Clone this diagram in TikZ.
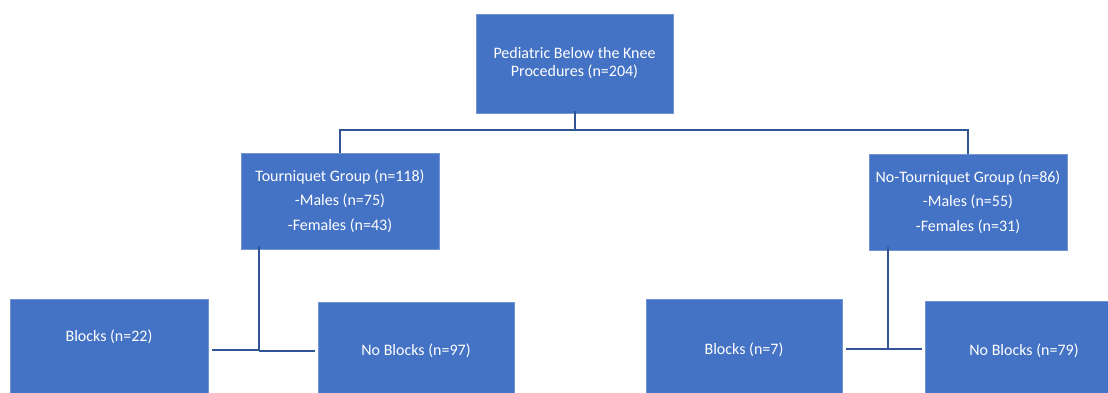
\documentclass[tikz,border=0pt]{standalone}
\usepackage{fontspec}
\setmainfont{Carlito}
\usetikzlibrary{positioning}
\definecolor{boxblue}{HTML}{4472C4}
\definecolor{lineblue}{HTML}{2F5597}

\begin{document}
\begin{tikzpicture}[x=1pt,y=-1pt,
  box/.style={draw=boxblue!75!white, line width=0.6pt, fill=boxblue, text=white, align=center, inner sep=0pt, font=\fontsize{16}{24.5}\selectfont},
  link/.style={draw=lineblue, line width=2pt}]
\useasboundingbox (0,0) rectangle (1108,392);
\clip (0,0) rectangle (1108,392);

\node[box, minimum width=197, minimum height=99, font=\fontsize{16}{18}\selectfont] (top) at (574.5,63.5) {Pediatric Below the Knee\\Procedures (n=204)};

\node[box, minimum width=198, minimum height=96] (tq) at (340,201) {Tourniquet Group (n=118)\\-Males (n=75)\\-Females (n=43)};
\node[box, minimum width=198, minimum height=96] (ntq) at (968,202) {No-Tourniquet Group (n=86)\\-Males (n=55)\\-Females (n=31)};

\node[box, minimum width=198, minimum height=101, text depth=28pt] (tqb) at (109,349.5) {Blocks (n=22)};
\node[box, minimum width=196, minimum height=98] (tqnb) at (416,351) {No Blocks (n=97)};
\node[box, minimum width=196, minimum height=101] (ntqb) at (744,349.5) {Blocks (n=7)};
\node[box, minimum width=198, minimum height=99] (ntqnb) at (1024,350.5) {No Blocks (n=79)};

% first split
\coordinate (bar) at (574.5,130);
\draw[link] ([yshift=2pt]top.south) -- (bar);
\draw[link] (tq.north) |- (bar) -| (ntq.north);

% tourniquet split
\coordinate (tqjoin) at (259,352);
\draw[link] ([yshift=3pt]tq.south -| tqjoin) -- (tqnb.west -| tqjoin);
\draw[link] ([xshift=4pt]tqb.east) -- (tqb.east -| tqjoin);
\draw[link] (tqnb.west -| tqjoin) -- ([xshift=-3pt]tqnb.west);

% no-tourniquet split
\coordinate (ntqjoin) at (888,349);
\draw[link] ([yshift=3pt]ntq.south -| ntqjoin) -- (ntqjoin);
\draw[link] ([xshift=4pt]ntqb.east |- ntqjoin) -- (ntqjoin) -- ([xshift=-3pt]ntqnb.west |- ntqjoin);
\end{tikzpicture}
\end{document}
